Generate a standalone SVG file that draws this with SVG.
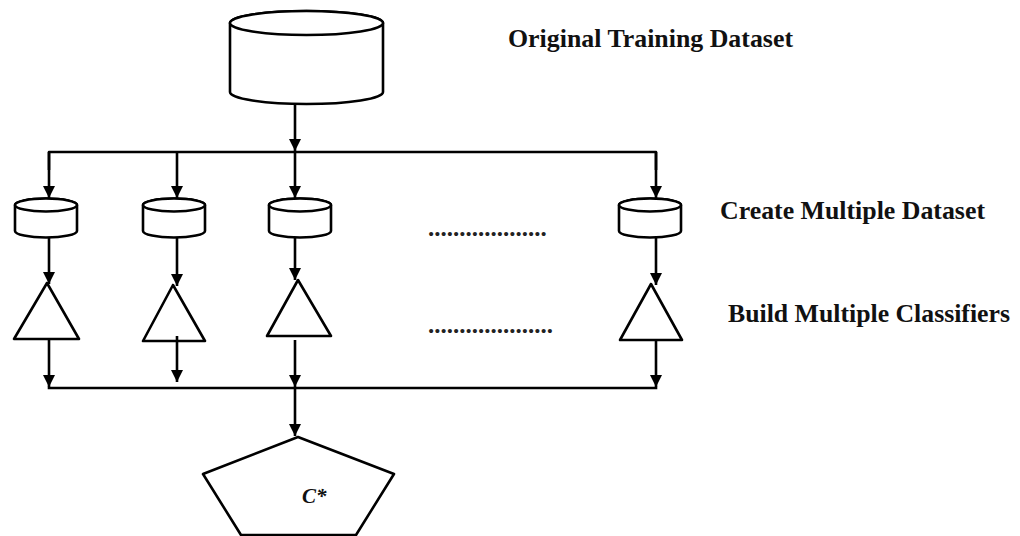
<svg xmlns="http://www.w3.org/2000/svg" width="1020" height="536" viewBox="0 0 1020 536">
  <style>
    .shape { fill: #ffffff; stroke: #000000; stroke-width: 2.6; stroke-linejoin: round; }
    .edge { fill: none; stroke: #000000; stroke-width: 2.6; stroke-linejoin: round; }
    .arrow { fill: none; stroke: #000000; stroke-width: 2.6; marker-end: url(#head); }
    .label { font-family: "Liberation Serif", "Times New Roman", serif; font-weight: bold; font-size: 25px; fill: #111111; }
    .dots { font-family: "Liberation Serif", "Times New Roman", serif; font-weight: bold; font-size: 25px; fill: #222222; }
    .math { font-family: "Liberation Serif", "Times New Roman", serif; font-style: italic; font-weight: bold; font-size: 21px; fill: #111111; }
  </style>
  <defs>
    <marker id="head" viewBox="0 0 10 10" refX="10" refY="5" markerWidth="4.8" markerHeight="4.8" markerUnits="strokeWidth" orient="auto">
      <path d="M0,0 L10,5 L0,10 Z" fill="#000000"/>
    </marker>
  </defs>
  <rect width="1020" height="536" fill="#ffffff"/>

  <!-- source dataset -->
  <g id="original-dataset">
    <path class="shape" d="M230,23 L230,92 A76.5,12 0 0 0 383,92 L383,23 A76.5,12 0 0 0 230,23 Z"/>
    <ellipse class="shape" cx="306.5" cy="23" rx="76.5" ry="12"/>
  </g>

  <!-- bootstrap samples -->
  <g id="dataset-1">
    <path class="shape" d="M15,205 L15,231 A31,6.5 0 0 0 77,231 L77,205 A31,6.5 0 0 0 15,205 Z"/>
    <ellipse class="shape" cx="46" cy="205" rx="31" ry="6.5"/>
  </g>
  <g id="dataset-2">
    <path class="shape" d="M143,205 L143,231 A31,6.5 0 0 0 205,231 L205,205 A31,6.5 0 0 0 143,205 Z"/>
    <ellipse class="shape" cx="174" cy="205" rx="31" ry="6.5"/>
  </g>
  <g id="dataset-3">
    <path class="shape" d="M269,205 L269,231 A31,6.5 0 0 0 331,231 L331,205 A31,6.5 0 0 0 269,205 Z"/>
    <ellipse class="shape" cx="300" cy="205" rx="31" ry="6.5"/>
  </g>
  <g id="dataset-n">
    <path class="shape" d="M619,205 L619,231 A31,6.5 0 0 0 681,231 L681,205 A31,6.5 0 0 0 619,205 Z"/>
    <ellipse class="shape" cx="650" cy="205" rx="31" ry="6.5"/>
  </g>

  <!-- classifiers -->
  <g id="classifier-1">
    <polygon class="shape" points="47,283 14,339 79,339"/>
  </g>
  <g id="classifier-2">
    <polygon class="shape" points="173,285 143,341 205,341"/>
  </g>
  <g id="classifier-3">
    <polygon class="shape" points="298,280 267,336 331,336"/>
  </g>
  <g id="classifier-n">
    <polygon class="shape" points="651,284 620,340 682,340"/>
  </g>

  <!-- combined classifier -->
  <g id="combined">
    <polygon class="shape" points="298,437 394,474 356,535 241,535 203,474"/>
    <text class="math" x="302" y="503">C*</text>
  </g>

  <!-- connectors -->
  <g id="connectors">
    <line class="arrow" x1="295" y1="104" x2="295" y2="151"/>
    <polyline class="edge" points="49,170 49,152 656,152 656,170"/>
    <line class="arrow" x1="49" y1="152" x2="49" y2="198"/>
    <line class="arrow" x1="177" y1="152" x2="177" y2="198"/>
    <line class="arrow" x1="295" y1="152" x2="295" y2="198"/>
    <line class="arrow" x1="656" y1="152" x2="656" y2="198"/>

    <line class="arrow" x1="49" y1="238" x2="49" y2="284"/>
    <line class="arrow" x1="177" y1="238" x2="177" y2="286"/>
    <line class="arrow" x1="295" y1="238" x2="295" y2="280"/>
    <line class="arrow" x1="656" y1="238" x2="656" y2="285"/>

    <line class="arrow" x1="49" y1="340" x2="49" y2="387"/>
    <line class="arrow" x1="177" y1="336" x2="177" y2="382"/>
    <line class="arrow" x1="295" y1="340" x2="295" y2="387"/>
    <line class="arrow" x1="656" y1="341" x2="656" y2="387"/>

    <line class="edge" x1="47.7" y1="388" x2="657.3" y2="388"/>
    <line class="arrow" x1="295" y1="388" x2="295" y2="436"/>
  </g>

  <!-- ellipsis rows -->
  <text class="dots" x="428" y="236">...................</text>
  <text class="dots" x="428" y="333">....................</text>

  <!-- stage labels -->
  <text class="label" x="508" y="47" textLength="285" lengthAdjust="spacingAndGlyphs">Original Training Dataset</text>
  <text class="label" x="720" y="219" textLength="265" lengthAdjust="spacingAndGlyphs">Create Multiple Dataset</text>
  <text class="label" x="728" y="322" textLength="282" lengthAdjust="spacingAndGlyphs">Build Multiple Classifiers</text>
</svg>
